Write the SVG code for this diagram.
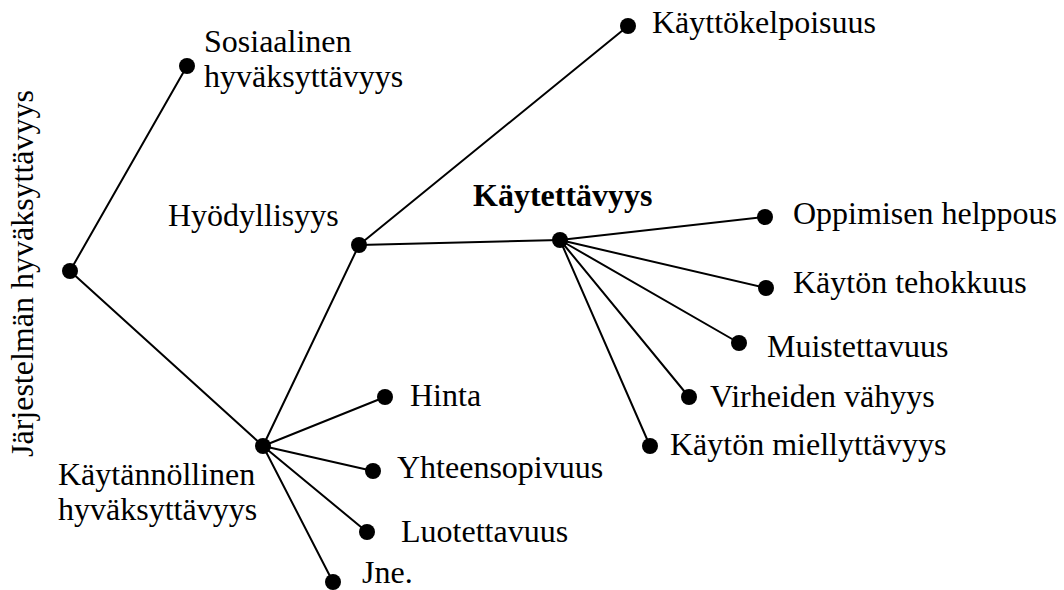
<svg xmlns="http://www.w3.org/2000/svg" width="1064" height="590" viewBox="0 0 1064 590">
<style>
.t{font-family:"Liberation Serif","Times New Roman",Times,"DejaVu Serif",serif;font-size:32px;fill:#000}
.b{font-weight:bold}
.d{fill:#000}
.c line{stroke:#000;stroke-width:2;stroke-linecap:round}
</style>
<rect width="1064" height="590" fill="#fff"/>
<g id="connectors" class="c">
<line x1="70" y1="271" x2="187" y2="66"/>
<line x1="70" y1="271" x2="263" y2="446"/>
<line x1="263" y1="446" x2="359" y2="245"/>
<line x1="359" y1="245" x2="628" y2="26"/>
<line x1="359" y1="245" x2="560" y2="240"/>
<line x1="560" y1="240" x2="765" y2="217"/>
<line x1="560" y1="240" x2="766" y2="288"/>
<line x1="560" y1="240" x2="739" y2="343"/>
<line x1="560" y1="240" x2="689" y2="397"/>
<line x1="560" y1="240" x2="650" y2="446"/>
<line x1="263" y1="446" x2="385" y2="397"/>
<line x1="263" y1="446" x2="373" y2="471"/>
<line x1="263" y1="446" x2="367" y2="532"/>
<line x1="263" y1="446" x2="333" y2="582"/>
</g>
<g font-family="Liberation Serif, Times New Roman, serif">
<g id="root"><circle class="d" cx="70" cy="271" r="8"/><text class="t" transform="translate(33,457) rotate(-90)">Järjestelmän hyväksyttävyys</text></g>
<g id="sosiaalinen"><circle class="d" cx="187" cy="66" r="8"/><text class="t" x="204" y="52">Sosiaalinen</text><text class="t" x="204" y="87">hyväksyttävyys</text></g>
<g id="kaytannollinen"><circle class="d" cx="263" cy="446" r="8"/><text class="t" x="58" y="485">Käytännöllinen</text><text class="t" x="58" y="520">hyväksyttävyys</text></g>
<g id="hyodyllisyys"><circle class="d" cx="359" cy="245" r="8"/><text class="t" x="168" y="226">Hyödyllisyys</text></g>
<g id="kayttokelpoisuus"><circle class="d" cx="628" cy="26" r="8"/><text class="t" x="652" y="33">Käyttökelpoisuus</text></g>
<g id="kaytettavyys"><circle class="d" cx="560" cy="240" r="8"/><text class="t b" x="473" y="206">Käytettävyys</text></g>
<g id="oppimisen"><circle class="d" cx="765" cy="217" r="8"/><text class="t" x="793" y="224">Oppimisen helppous</text></g>
<g id="tehokkuus"><circle class="d" cx="766" cy="288" r="8"/><text class="t" x="793" y="293">Käytön tehokkuus</text></g>
<g id="muistettavuus"><circle class="d" cx="739" cy="343" r="8"/><text class="t" x="767" y="357">Muistettavuus</text></g>
<g id="virheiden"><circle class="d" cx="689" cy="397" r="8"/><text class="t" x="710" y="407">Virheiden vähyys</text></g>
<g id="miellyttavyys"><circle class="d" cx="650" cy="446" r="8"/><text class="t" x="670" y="455">Käytön miellyttävyys</text></g>
<g id="hinta"><circle class="d" cx="385" cy="397" r="8"/><text class="t" x="410" y="406">Hinta</text></g>
<g id="yhteensopivuus"><circle class="d" cx="373" cy="471" r="8"/><text class="t" x="397" y="478">Yhteensopivuus</text></g>
<g id="luotettavuus"><circle class="d" cx="367" cy="532" r="8"/><text class="t" x="401" y="542">Luotettavuus</text></g>
<g id="jne"><circle class="d" cx="333" cy="582" r="8"/><text class="t" x="362" y="583">Jne.</text></g>
</g>
</svg>
